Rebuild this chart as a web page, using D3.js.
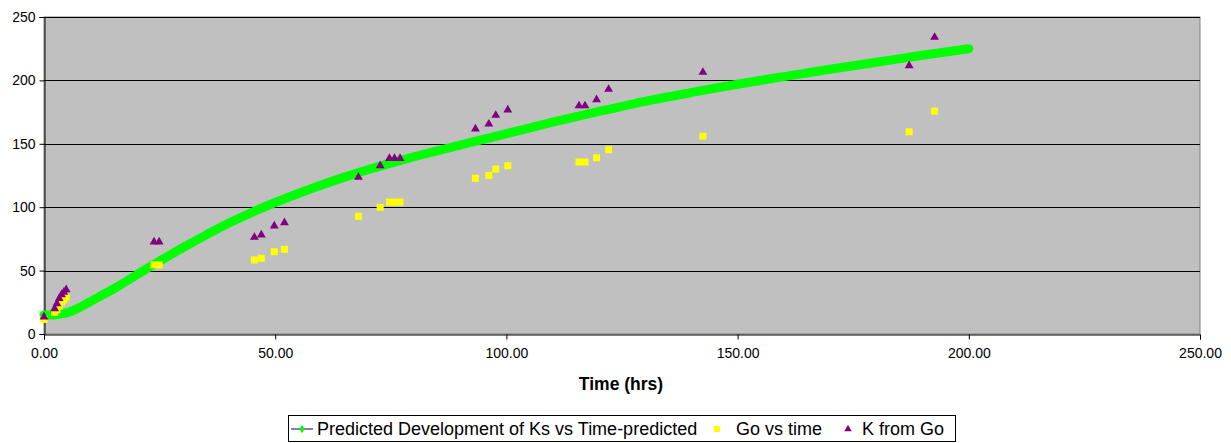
<!DOCTYPE html>
<html>
<head>
<meta charset="utf-8">
<script src="https://cdn.jsdelivr.net/npm/d3@7"></script>
<style>
  body { margin: 0; background: #fff; }
  svg { display: block; font-family: "Liberation Sans", Arial, sans-serif; }
</style>
</head>
<body>
<svg id="chart" width="1231" height="443"></svg>
<script>
// predicted Ks curve
const predTime = [0, 2, 4, 6, 8, 10, 12, 15, 18, 20, 22, 25, 30, 35, 40, 45, 50, 55, 60, 65,
                  70, 75, 80, 85, 90, 95, 100, 110, 120, 130, 140, 150, 160, 170, 180, 190, 200];
const predKs   = [15, 15, 16, 18, 21.5, 25.5, 29.5, 35.5, 42, 46.5, 51, 57.5, 68, 78, 87.5, 96, 103.7, 110.8, 117.5, 123.7,
                  129.5, 134.8, 139.8, 144.5, 149, 153.5, 158, 167, 175.5, 183.5, 190.5, 197, 203, 208.8, 214.3, 219.8, 225];

// measured points
const sampleTime = [0, 2.3, 2.8, 3.3, 3.8, 4.3, 4.8, 23.8, 24.9, 45.5, 47, 49.8, 52, 68, 72.7,
                    74.7, 75.8, 77, 93.3, 96.2, 97.7, 100.3, 115.7, 117, 119.5, 122.1, 142.5, 187.1, 192.6];
const goValues = [11.5, 17, 19, 22, 25, 27, 29, 54.5, 54.5, 58.4, 59.7, 64.9, 66.8, 92.8, 99.9,
                  104, 104, 104, 122.8, 125.1, 130.1, 132.7, 135.6, 135.6, 139, 145.3, 156, 159.5, 175.8];
const kValues  = [13.5, 20, 24, 28, 31, 33, 35, 72.6, 72.6, 76.3, 78.1, 85.2, 87.8, 123.6, 132.7,
                  138.5, 138.5, 138.5, 161.7, 165.6, 172.5, 176.7, 180, 180, 184.8, 193, 206.4, 211.6, 234];

const xTicks = [0, 50, 100, 150, 200, 250];
const yTicks = [0, 50, 100, 150, 200, 250];

const svg = d3.select("#chart");
const plotL = 44, plotT = 17, plotR = 1200, plotB = 334;

const x = d3.scaleLinear().domain([0, 250]).range([plotL, plotR]);
const y = d3.scaleLinear().domain([0, 250]).range([plotB, plotT]);

// plot background
svg.append("rect")
  .attr("x", plotL).attr("y", plotT)
  .attr("width", plotR - plotL).attr("height", plotB - plotT)
  .attr("fill", "#c0c0c0")
  .attr("stroke", "#808080");

// gridlines
svg.append("g").selectAll("line")
  .data(yTicks.filter(d => d > 0))
  .enter().append("line")
  .attr("x1", plotL).attr("x2", plotR)
  .attr("y1", d => Math.round(y(d)) + 0.5).attr("y2", d => Math.round(y(d)) + 0.5)
  .attr("stroke", "#000").attr("stroke-width", 1);

// axes
const yAxis = svg.append("g")
  .attr("transform", `translate(${plotL + 0.5},0)`)
  .call(d3.axisLeft(y).tickValues(yTicks).tickSize(5).tickPadding(4).tickFormat(d3.format("d")));
const xAxis = svg.append("g")
  .attr("transform", `translate(0,${plotB + 0.5})`)
  .call(d3.axisBottom(x).tickValues(xTicks).tickSize(5).tickPadding(9).tickFormat(d3.format(".2f")));

[yAxis, xAxis].forEach(a => {
  a.select(".domain").attr("stroke", "#000");
  a.selectAll(".tick line").attr("stroke", "#000");
  a.selectAll("text").attr("fill", "#000")
    .style("font-family", "'Liberation Sans', Arial, sans-serif")
    .style("font-size", "14px");
});

// predicted curve: dense green markers merge into a thick band
const line = d3.line()
  .x((d, i) => x(predTime[i]))
  .y(d => y(d))
  .curve(d3.curveMonotoneX);

svg.append("path")
  .datum(predKs)
  .attr("d", line)
  .attr("fill", "none")
  .attr("stroke", "#00ff00")
  .attr("stroke-width", 9)
  .attr("stroke-linecap", "round")
  .attr("stroke-linejoin", "round");

// Go vs time (yellow squares)
svg.append("g").selectAll("rect")
  .data(goValues)
  .enter().append("rect")
  .attr("x", (d, i) => x(sampleTime[i]) - 3.5)
  .attr("y", d => y(d) - 3.5)
  .attr("width", 7).attr("height", 7)
  .attr("fill", "#ffff00");

// K from Go (purple triangles)
const tri = d3.symbol().type(d3.symbolTriangle).size(34);
svg.append("g").selectAll("path")
  .data(kValues)
  .enter().append("path")
  .attr("d", tri)
  .attr("transform", (d, i) => `translate(${x(sampleTime[i])},${y(d)})`)
  .attr("fill", "#800080");

// x axis title
svg.append("text")
  .attr("x", 621).attr("y", 390)
  .attr("text-anchor", "middle")
  .style("font-size", "17.5px").style("font-weight", "bold")
  .text("Time (hrs)");

// legend
const lg = svg.append("g");
lg.append("rect")
  .attr("x", 288.5).attr("y", 415.5)
  .attr("width", 667).attr("height", 26)
  .attr("fill", "#fff").attr("stroke", "#000");

lg.append("line")
  .attr("x1", 291).attr("x2", 313).attr("y1", 429).attr("y2", 429)
  .attr("stroke", "#000080").attr("stroke-width", 1);
lg.append("path")
  .attr("d", d3.symbol().type(d3.symbolDiamond).size(22))
  .attr("transform", "translate(302,429)")
  .attr("fill", "#00ff00");
lg.append("text").attr("x", 317).attr("y", 435).style("font-size", "18px")
  .text("Predicted Development of Ks vs Time-predicted");

lg.append("rect").attr("x", 714).attr("y", 426).attr("width", 6).attr("height", 6)
  .attr("fill", "#ffff00");
lg.append("text").attr("x", 736).attr("y", 435).style("font-size", "18px")
  .text("Go vs time");

lg.append("path")
  .attr("d", d3.symbol().type(d3.symbolTriangle).size(24))
  .attr("transform", "translate(848,429)")
  .attr("fill", "#800080");
lg.append("text").attr("x", 862).attr("y", 435).style("font-size", "18px")
  .text("K from Go");
</script>
</body>
</html>
